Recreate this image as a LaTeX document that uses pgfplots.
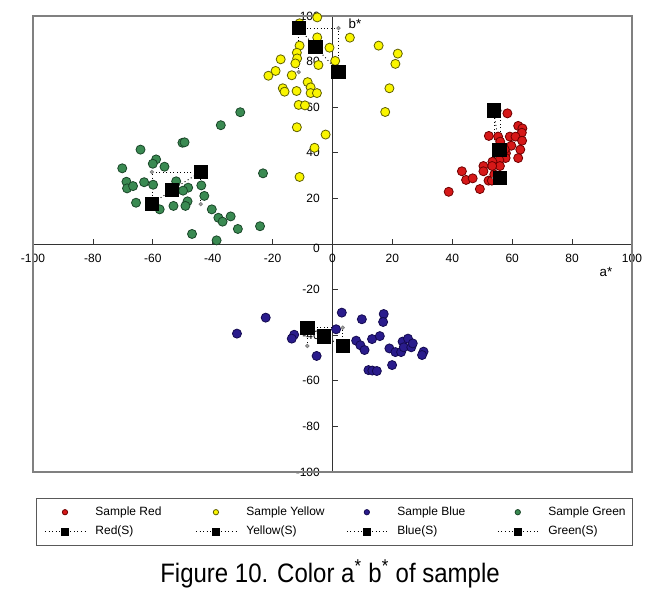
\documentclass[border=0pt]{standalone}
\usepackage{fontspec}
\setmainfont{Liberation Sans}
\newfontfamily\capfont[FakeStretch=0.9]{Liberation Sans}
\usepackage{pgfplots}
\pgfplotsset{compat=1.18}

\definecolor{redfill}{RGB}{214,24,24}
\definecolor{rededge}{RGB}{110,0,0}
\definecolor{yelfill}{RGB}{250,245,0}
\definecolor{yeledge}{RGB}{95,95,0}
\definecolor{blufill}{RGB}{42,28,140}
\definecolor{bluedge}{RGB}{20,10,80}
\definecolor{grnfill}{RGB}{58,138,82}
\definecolor{grnedge}{RGB}{25,70,40}

\pgfplotsset{
  pts/.style={only marks, mark=*, mark size=3.4pt,
    mark options={fill=#1fill, draw=#1edge, line width=0.6pt},
    legend image code/.code={\path[draw=none] (0pt,0pt) -- (30pt,0pt);
      \path[##1, draw=none, mark size=2pt] plot[only marks] coordinates {(15pt,0pt)};}},
  sq/.style={black, dotted, line width=0.7pt, mark=square*, mark size=5pt,
    mark options={solid, fill=black},
    legend image code/.code={\draw[##1, mark size=2.6pt, mark repeat=2, mark phase=2]
      plot coordinates {(0pt,0pt) (15pt,0pt) (30pt,0pt)};}},
  aux/.style={forget plot, black, dotted, line width=0.6pt, mark=*, mark size=1.3pt,
    mark options={solid, fill=gray!70, draw=gray}},
}

\begin{document}
\begin{tikzpicture}
\useasboundingbox (0pt,0pt) rectangle (495pt,442.5pt);
\begin{axis}[
  scale only axis, width=449.25pt, height=342pt,
  at={(24.75pt,88.5pt)}, anchor=south west,
  xmin=-100, xmax=100, ymin=-100, ymax=100,
  axis lines=middle,
  axis line style={draw=black!80, line width=0.7pt, -},
  xtick={-100,-80,...,100}, ytick={-100,-80,...,100},
  tick align=inside, major tick length=4pt,
  tick style={draw=black!80, line width=0.6pt},
  /pgf/number format/assume math mode=true,
  tick label style={font=\fontsize{9}{10}\selectfont},
  x tick label style={yshift=-4pt},
  y tick label style={xshift=-6pt},
  xlabel={a*}, ylabel={b*},
  x label style={at={(axis cs:91.3,-12.3)}, anchor=center, font=\fontsize{10}{12}\selectfont},
  y label style={at={(axis cs:7.5,96.5)}, anchor=center, rotate=0, font=\fontsize{10}{12}\selectfont},
  clip=false,
  legend columns=4,
  legend cell align=left,
  legend style={at={(0.005,-0.057)}, anchor=north west, draw=black!65, line width=0.8pt,
    font=\fontsize{9}{10}\selectfont, inner xsep=6pt, inner ysep=6pt,
    nodes={inner sep=0pt, text height=6.5pt, text depth=2pt},
    row sep=6pt,
    /tikz/every odd column/.append style={column sep=7.5pt},
    /tikz/every even column/.append style={column sep=0pt}},
]
\draw[gray, line width=0.8pt] (rel axis cs:0,0) rectangle (rel axis cs:1,1);
% the two origin labels that middle axes leave out
\node[font=\fontsize{9}{10}\selectfont, anchor=center, yshift=-10.5pt] at (axis cs:0,0) {0};
\node[font=\fontsize{9}{10}\selectfont, anchor=east, xshift=-6pt, yshift=-3pt] at (axis cs:0,0) {0};

% measured samples
\addplot[pts=red] coordinates {
  (58.4,57.3) (62.0,51.8) (63.4,50.7) (63.2,48.8) (59.2,47.1) (61.1,47.1)
  (63.3,45.3) (52.2,47.4) (55.3,47.1) (56.0,44.9) (59.7,43.1) (62.7,41.4)
  (57.9,39.8) (57.1,38.3) (62.0,37.7) (57.8,37.7) (55.7,36.8) (53.4,36.1)
  (55.9,34.2) (53.3,34.2) (50.4,34.2) (50.4,31.9) (43.2,31.9) (44.6,28.1)
  (46.8,28.8) (52.1,27.8) (53.2,27.8) (56.1,29.8) (49.2,24.1) (38.8,22.9)
  (57.5,41.5) (54.0,30.5)};
\addlegendentry{\makebox[75pt][l]{Sample Red}}
\addplot[pts=yel] coordinates {
  (-11.0,96.8) (-5.1,99.4) (-5.1,90.6) (-11.0,87.0) (-11.9,83.9) (-11.8,81.4)
  (-12.4,79.2) (-17.3,81.0) (-19.0,75.9) (-21.4,73.8) (-13.6,74.0) (-8.3,71.0)
  (-16.6,68.3) (-16.0,66.8) (-12.0,67.1) (-7.3,68.7) (-7.3,66.2) (-5.2,66.2)
  (-11.3,61.0) (-9.2,60.8) (-11.9,51.2) (-2.3,48.0) (-6.0,42.2) (-1.0,86.1)
  (0.9,80.3) (-4.7,78.5) (5.8,90.5) (15.4,87.0) (21.8,83.5) (21.0,79.0)
  (19.0,68.3) (17.6,57.9) (-11.0,29.4)};
\addlegendentry{\makebox[75pt][l]{Sample Yellow}}
\addplot[pts=blu] coordinates {
  (-31.9,-39.3) (-22.3,-32.3) (-12.8,-39.8) (-13.6,-41.5) (-5.3,-49.1)
  (1.2,-37.4) (3.1,-30.1) (9.8,-33.0) (17.1,-30.7) (16.9,-34.2) (7.9,-42.4)
  (9.3,-44.4) (10.7,-46.5) (13.2,-41.7) (15.8,-40.4) (19.0,-45.8) (21.0,-47.4)
  (22.9,-47.4) (23.4,-42.8) (25.2,-41.5) (23.8,-45.3) (26.3,-45.3) (26.8,-43.6)
  (30.4,-47.2) (29.9,-48.7) (19.9,-53.1) (12.0,-55.3) (13.3,-55.5) (14.8,-55.7)};
\addlegendentry{\makebox[75pt][l]{Sample Blue}}
\addplot[pts=grn] coordinates {
  (-30.8,57.8) (-37.3,52.1) (-50.1,44.4) (-49.4,44.6) (-64.1,41.4) (-58.9,37.1)
  (-60.0,35.2) (-56.1,33.9) (-70.2,33.2) (-23.2,31.0) (-68.8,27.3) (-68.6,24.4)
  (-66.6,25.4) (-62.9,27.1) (-59.9,26.0) (-52.2,27.5) (-48.2,24.7) (-49.9,23.4)
  (-43.8,25.7) (-42.8,21.1) (-48.4,18.7) (-49.1,16.7) (-53.1,16.7) (-65.6,18.1)
  (-57.7,15.2) (-40.3,15.2) (-38.1,11.5) (-36.7,9.8) (-34.0,12.1) (-31.6,6.6)
  (-24.2,7.8) (-46.9,4.4) (-38.7,1.6)};
\addlegendentry{\makebox[57pt][l]{Sample Green}}

% range lines of the standards
\addplot[aux] coordinates {(53.9,28.9) (53.9,58.5) (55.9,58.5) (55.9,28.9)};
\addplot[aux] coordinates {(-11.3,75.4) (-11.3,94.7) (2.0,94.7) (2.0,75.4)};
\addplot[aux] coordinates {(-8.4,-44.7) (-8.4,-36.7) (3.4,-36.7) (3.4,-44.7)};
\addplot[aux] coordinates {(-44.0,17.5) (-44.0,31.6) (-60.3,31.6) (-60.3,17.5)};

% standards
\addplot[sq] coordinates {(53.9,58.5) (55.7,41.2) (55.9,28.9)};
\addlegendentry{\makebox[75pt][l]{Red(S)}}
\addplot[sq] coordinates {(-11.3,94.7) (-5.7,86.5) (2.0,75.4)};
\addlegendentry{\makebox[75pt][l]{Yellow(S)}}
\addplot[sq] coordinates {(-8.4,-36.7) (-2.9,-40.6) (3.4,-44.7)};
\addlegendentry{\makebox[75pt][l]{Blue(S)}}
\addplot[sq] coordinates {(-60.3,17.5) (-53.7,23.7) (-44.0,31.6)};
\addlegendentry{\makebox[57pt][l]{Green(S)}}
\end{axis}
\node[font=\capfont\fontsize{20}{24}\selectfont, anchor=base] at (247.5pt,5.5pt)
  {Figure 10. Color a\textsuperscript{*} b\textsuperscript{*} of sample};
\end{tikzpicture}
\end{document}
